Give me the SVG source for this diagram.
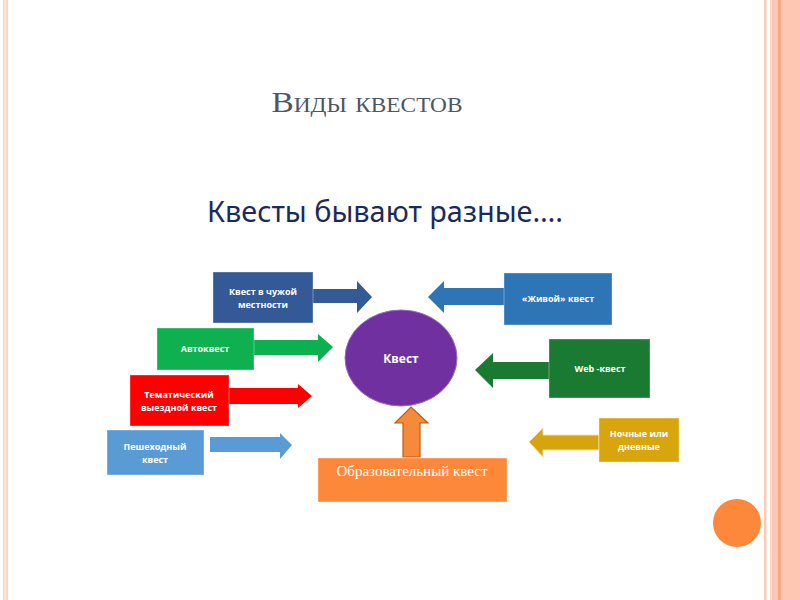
<svg xmlns="http://www.w3.org/2000/svg" width="800" height="600" viewBox="0 0 800 600">
<style>
.lbl{font-family:"Open Sans","Liberation Sans",sans-serif;font-weight:700;font-size:9px;fill:#fff;text-anchor:middle}
.box{stroke:#ffffff;stroke-opacity:0.35;stroke-width:1}
</style>
<rect width="800" height="600" fill="#fff"/>
<!-- borders -->
<g id="border">
<rect x="3" y="0" width="5" height="600" fill="#fcd3c3"/>
<rect x="4.5" y="0" width="1.5" height="600" fill="#feeae2"/>
<rect x="764" y="0" width="2.5" height="600" fill="#fbc9b5"/>
<rect x="770" y="0" width="1.5" height="600" fill="#fcd3c3"/>
<rect x="772" y="0" width="28" height="600" fill="#fcc7b3"/>
<rect x="778" y="0" width="3" height="600" fill="#f5a986"/>
<ellipse cx="737" cy="523" rx="24" ry="24" fill="#fd873a"/>
</g>
<text x="367" y="112" font-family="Liberation Serif,serif" font-size="30" font-variant="small-caps" fill="#4f5563" text-anchor="middle" textLength="191" lengthAdjust="spacingAndGlyphs">Виды квестов</text>
<text x="207" y="222" font-family="Noto Sans,Open Sans,sans-serif" font-size="29" fill="#1c2a5a" textLength="356" lengthAdjust="spacingAndGlyphs">Квесты бывают разные….</text>

<g id="connectors">
<polygon points="313,289 357,289 357,281 372,297 357,313 357,303 313,303" fill="#335a94"/>
<polygon points="254,340 318,340 318,334 333,347 318,362 318,355 254,355" fill="#0db04f"/>
<polygon points="229,388 298,388 298,384 312,396 298,408 298,404 229,404" fill="#fe0000"/>
<polygon points="210,437 280,437 280,433 292,445 280,459 280,452 210,452" fill="#5b9bd5"/>
<polygon points="504,288 444,288 444,281 428,297 444,313 444,305 504,305" fill="#2e75b6"/>
<polygon points="549,362 493,362 493,353 475,370 493,388 493,379 549,379" fill="#1a7a31"/>
<polygon points="599,435 543,435 543,428 529,442 543,457 543,450 599,450" fill="#d6a40e" stroke="#f4e2a6" stroke-width="1"/>
<polygon points="403,457 403,423 395,423 411,407 428,423 420,423 420,457" fill="#f58a3a" stroke="#c55a11" stroke-width="1.2"/>
</g>

<g id="n-chuzhoy">
<rect class="box" x="213" y="272" width="100" height="51" fill="#335a96"/>
<text class="lbl" x="263" y="295">Квест в чужой</text>
<text class="lbl" x="263" y="308">местности</text>
</g>
<g id="n-avto">
<rect class="box" x="157" y="328" width="97" height="42" fill="#0eb050"/>
<text class="lbl" x="205" y="352">Автоквест</text>
</g>
<g id="n-tema">
<rect class="box" x="130" y="375" width="99" height="51" fill="#fe0000"/>
<text class="lbl" x="179" y="398">Тематический</text>
<text class="lbl" x="179" y="411">выездной квест</text>
</g>
<g id="n-peshe">
<rect class="box" x="107" y="430" width="97" height="45" fill="#5b9bd5"/>
<text class="lbl" x="155" y="450">Пешеходный</text>
<text class="lbl" x="155" y="463">квест</text>
</g>
<g id="n-kvest">
<ellipse cx="401" cy="358" rx="56" ry="48" fill="#7030a0" stroke="#9a6cc0" stroke-width="1"/>
<text x="401" y="363" font-family="Open Sans,Liberation Sans,sans-serif" font-weight="700" font-size="12" fill="#fff" text-anchor="middle">Квест</text>
</g>
<g id="n-zhivoy">
<rect class="box" x="504" y="273" width="108" height="52" fill="#2e75b6"/>
<text class="lbl" x="558" y="302">«Живой» квест</text>
</g>
<g id="n-web">
<rect class="box" x="549" y="339" width="101" height="59" fill="#1b7a31"/>
<text class="lbl" x="600" y="372">Web -квест</text>
</g>
<g id="n-noch">
<rect class="box" x="599" y="418" width="80" height="44" fill="#d8a60c"/>
<text class="lbl" x="639" y="437">Ночные или</text>
<text class="lbl" x="639" y="450">дневные</text>
</g>
<g id="n-obraz">
<rect class="box" x="318" y="458" width="189" height="44" fill="#fd883a"/>
<text x="412" y="476" font-family="Liberation Serif,serif" font-size="15" fill="#fff" text-anchor="middle">Образовательный квест</text>
</g>
</svg>
